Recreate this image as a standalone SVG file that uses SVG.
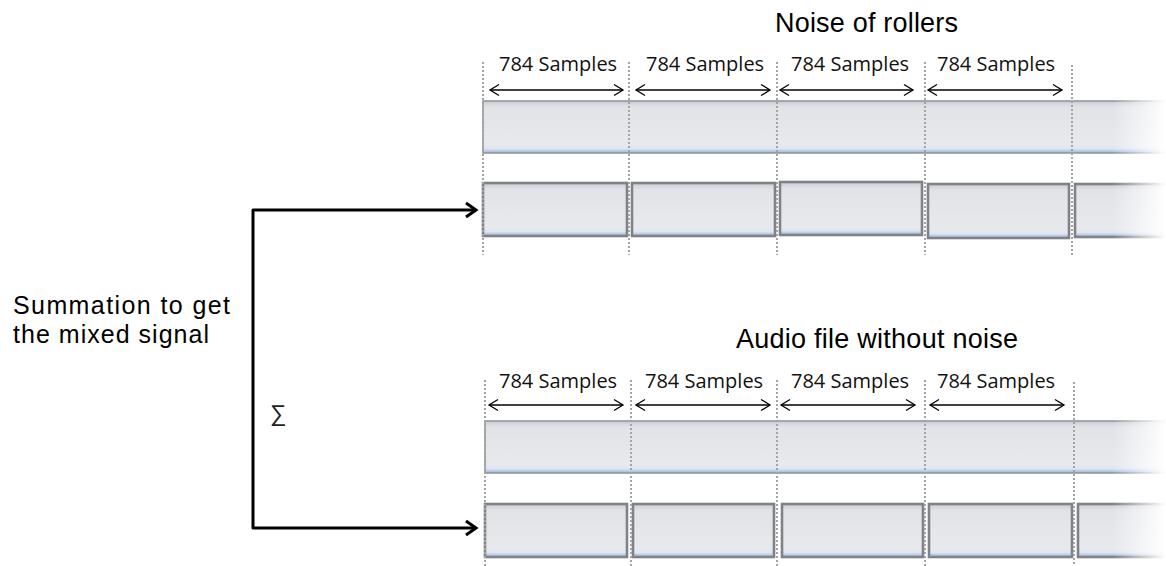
<svg xmlns="http://www.w3.org/2000/svg" width="1166" height="566" viewBox="0 0 1166 566">
  <style>
    .title { font-family: "Liberation Sans", Arial, sans-serif; font-size: 27px; fill: #000; }
    .side { font-family: "Liberation Sans", Arial, sans-serif; font-size: 25px; fill: #000; }
    .lbl { font-family: "Open Sans", "Liberation Sans", sans-serif; font-size: 20px; fill: #111; }
    .dot { stroke: #a4a4a4; stroke-width: 2; stroke-dasharray: 2 2; fill: none; }
    .dim { stroke: #000; stroke-width: 1.3; fill: none; marker-start: url(#chev); marker-end: url(#chev); }
    .bar { fill: url(#barFill); stroke: #8e9297; stroke-width: 1.5; }
    .seg { fill: url(#barFill); stroke: #7f8388; stroke-width: 2.6; }
    .conn { stroke: #000; stroke-width: 3; fill: none; stroke-linejoin: round; marker-start: url(#bigChev); marker-end: url(#bigChev); }
  </style>
  <defs>
    <linearGradient id="barFill" x1="0" y1="0" x2="0" y2="1">
      <stop offset="0" stop-color="#c9ccd1"/>
      <stop offset="0.12" stop-color="#e1e3e7"/>
      <stop offset="0.85" stop-color="#e7e9ed"/>
      <stop offset="0.92" stop-color="#dde5f0"/>
      <stop offset="0.96" stop-color="#b7cbe8"/>
      <stop offset="1" stop-color="#a3b6d2"/>
    </linearGradient>
    <linearGradient id="fade" x1="0" y1="0" x2="1" y2="0">
      <stop offset="0" stop-color="#fff" stop-opacity="0"/>
      <stop offset="1" stop-color="#fff" stop-opacity="1"/>
    </linearGradient>
    <marker id="chev" markerUnits="userSpaceOnUse" markerWidth="12" markerHeight="14" refX="10" refY="7" orient="auto-start-reverse">
      <path d="M1,1.5 L10,7 L1,12.5" fill="none" stroke="#000" stroke-width="1.3"/>
    </marker>
    <marker id="bigChev" markerUnits="userSpaceOnUse" markerWidth="16" markerHeight="18" refX="13" refY="9" orient="auto-start-reverse">
      <path d="M3,2 L13,9 L3,16" fill="none" stroke="#000" stroke-width="3" stroke-linejoin="miter"/>
    </marker>
  </defs>
  <rect width="1166" height="566" fill="#fff"/>

  <!-- Top group: Noise of rollers -->
  <g id="noise-group">
    <text class="title" x="775" y="32" textLength="183" lengthAdjust="spacing">Noise of rollers</text>
    <g id="noise-full">
      <rect class="bar" x="483" y="101" width="700" height="52"/>
    </g>
    <g id="noise-segments">
      <rect class="seg" x="483" y="183" width="144" height="53"/>
      <rect class="seg" x="632" y="183" width="143" height="53"/>
      <rect class="seg" x="780" y="182" width="142" height="53"/>
      <rect class="seg" x="928" y="184" width="141" height="54"/>
      <rect class="seg" x="1075" y="184" width="110" height="53"/>
    </g>
    <rect x="1112" y="95" width="54" height="146" fill="url(#fade)"/>
    <g id="noise-dots">
      <line class="dot" x1="483" y1="62" x2="483" y2="255"/>
      <line class="dot" x1="629" y1="62" x2="629" y2="255"/>
      <line class="dot" x1="777" y1="62" x2="777" y2="255"/>
      <line class="dot" x1="925" y1="62" x2="925" y2="255"/>
      <line class="dot" x1="1072" y1="65" x2="1072" y2="255"/>
    </g>
    <g id="noise-labels">
      <text class="lbl" x="499" y="71">784 Samples</text>
      <text class="lbl" x="646" y="71">784 Samples</text>
      <text class="lbl" x="791" y="71">784 Samples</text>
      <text class="lbl" x="937" y="71">784 Samples</text>
      <line class="dim" x1="490" y1="90" x2="623" y2="90"/>
      <line class="dim" x1="636" y1="90" x2="770" y2="90"/>
      <line class="dim" x1="780" y1="90" x2="913" y2="90"/>
      <line class="dim" x1="928" y1="90" x2="1062" y2="90"/>
    </g>
  </g>

  <!-- Bottom group: Audio file without noise -->
  <g id="audio-group">
    <text class="title" x="736" y="348" textLength="282" lengthAdjust="spacing">Audio file without noise</text>
    <g id="audio-full">
      <rect class="bar" x="485" y="421" width="700" height="52"/>
    </g>
    <g id="audio-segments">
      <rect class="seg" x="485" y="504" width="142" height="53"/>
      <rect class="seg" x="633" y="504" width="141" height="53"/>
      <rect class="seg" x="782" y="504" width="141" height="53"/>
      <rect class="seg" x="929" y="504" width="143" height="53"/>
      <rect class="seg" x="1078" y="504" width="110" height="53"/>
    </g>
    <rect x="1112" y="415" width="54" height="148" fill="url(#fade)"/>
    <g id="audio-dots">
      <line class="dot" x1="485" y1="380" x2="485" y2="566"/>
      <line class="dot" x1="631" y1="380" x2="631" y2="566"/>
      <line class="dot" x1="777" y1="380" x2="777" y2="566"/>
      <line class="dot" x1="925" y1="380" x2="925" y2="566"/>
      <line class="dot" x1="1074" y1="382" x2="1074" y2="566"/>
    </g>
    <g id="audio-labels">
      <text class="lbl" x="499" y="388">784 Samples</text>
      <text class="lbl" x="645" y="388">784 Samples</text>
      <text class="lbl" x="791" y="388">784 Samples</text>
      <text class="lbl" x="937" y="388">784 Samples</text>
      <line class="dim" x1="489" y1="405" x2="623" y2="405"/>
      <line class="dim" x1="636" y1="405" x2="770" y2="405"/>
      <line class="dim" x1="781" y1="405" x2="915" y2="405"/>
      <line class="dim" x1="930" y1="405" x2="1064" y2="405"/>
    </g>
  </g>

  <!-- Summation node -->
  <g id="summation">
    <text class="side" x="13" y="314" textLength="217" lengthAdjust="spacing">Summation to get</text>
    <text class="side" x="13" y="343" textLength="196" lengthAdjust="spacing">the mixed signal</text>
    <text x="270" y="421" font-family="DejaVu Sans, sans-serif" font-size="23" font-weight="300" fill="#222">∑</text>
  </g>

  <!-- Connectors -->
  <g id="connectors">
    <path class="conn" d="M476,210 H253 V528 H476"/>
  </g>
</svg>
